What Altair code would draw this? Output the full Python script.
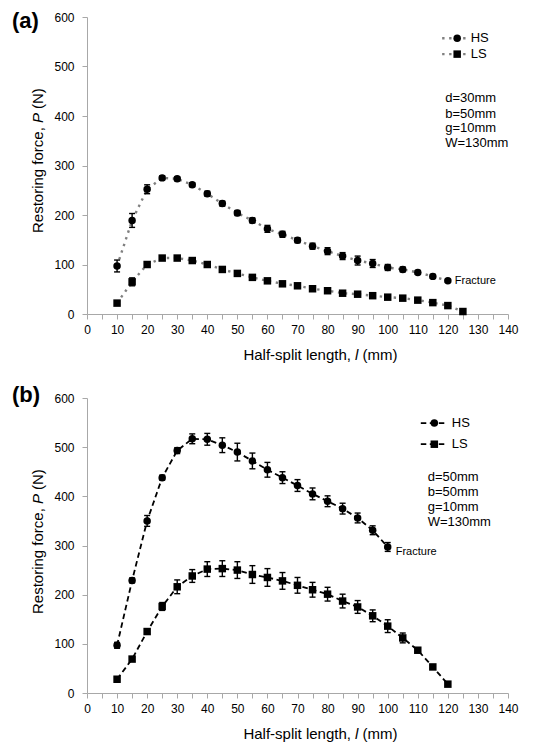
import altair as alt
import pandas as pd

# ---------------- data ----------------
# (a) d = 30 mm
a_hs_l = [10, 15, 20, 25, 30, 35, 40, 45, 50, 55, 60, 65, 70, 75, 80, 85, 90, 95, 100, 105, 110, 115, 120]
a_hs_p = [97, 189, 252, 275, 273, 261, 243, 223, 204, 189, 172, 161, 149, 137, 127, 117, 108, 102, 94, 90, 84, 76, 67]
a_hs_e = [12, 14, 9, 4, 4, 4, 5, 5, 5, 5, 7, 6, 5, 6, 7, 7, 9, 8, 6, 5, 4, 4, 3]
a_ls_l = [10, 15, 20, 25, 30, 35, 40, 45, 50, 55, 60, 65, 70, 75, 80, 85, 90, 95, 100, 105, 110, 115, 120, 125]
a_ls_p = [22, 65, 100, 113, 113, 108, 100, 90, 82, 74, 67, 61, 57, 51, 47, 42, 40, 37, 34, 32, 28, 23, 17, 5]
a_ls_e = [3, 8, 3, 3, 3, 3, 3, 3, 3, 3, 3, 3, 3, 3, 3, 3, 3, 3, 3, 3, 3, 3, 3, 2]
a_notes = ["d=30mm", "b=50mm", "g=10mm", "W=130mm"]

# (b) d = 50 mm
b_hs_l = [10, 15, 20, 25, 30, 35, 40, 45, 50, 55, 60, 65, 70, 75, 80, 85, 90, 95, 100]
b_hs_p = [97, 229, 350, 438, 493, 517, 516, 504, 490, 472, 454, 438, 422, 405, 390, 375, 356, 331, 297]
b_hs_e = [6, 5, 11, 5, 6, 10, 12, 15, 18, 16, 15, 12, 12, 12, 11, 11, 10, 9, 9]
b_ls_l = [10, 15, 20, 25, 30, 35, 40, 45, 50, 55, 60, 65, 70, 75, 80, 85, 90, 95, 100, 105, 110, 115, 120]
b_ls_p = [28, 69, 125, 176, 216, 238, 252, 253, 250, 241, 235, 228, 219, 210, 201, 187, 175, 157, 136, 112, 87, 53, 18]
b_ls_e = [2, 4, 5, 8, 14, 13, 15, 16, 17, 18, 18, 17, 16, 15, 14, 14, 13, 12, 13, 10, 4, 3, 2]
b_notes = ["d=50mm", "b=50mm", "g=10mm", "W=130mm"]

series_names = ["HS", "LS"]
tick_l = list(range(0, 145, 5))
tick_p = list(range(0, 650, 50))

# ---------------- styling ----------------
FONT = "Liberation Sans, Arial, Helvetica, sans-serif"
AXIS_GREY = "#a8a8a8"
MARKER = 56


def frame(l, p, e, name):
    return pd.DataFrame({
        "l": l, "P": p,
        "lo": [v - d for v, d in zip(p, e)],
        "hi": [v + d for v, d in zip(p, e)],
        "series": name,
    })


def one_text(text, x, y, **kw):
    return alt.Chart(pd.DataFrame({"t": [text]})).mark_text(font=FONT, color="black", **kw).encode(
        x=alt.value(x), y=alt.value(y), text="t:N")


def panel(hs, ls, notes, tag, line_style, w, h, leg, note_pos, frac_off, tag_x, tag_y):
    data = pd.concat([hs, ls], ignore_index=True)
    xs = alt.Scale(domain=[0, 140], nice=False, zero=False)
    ys = alt.Scale(domain=[0, 600], nice=False)
    x_enc = alt.X("l:Q", scale=xs, axis=alt.Axis(
        values=tick_l, labelExpr="datum.value % 10 === 0 ? datum.label : ''",
        title=None, grid=False, domainColor=AXIS_GREY, tickColor=AXIS_GREY, tickSize=5,
        labelFont=FONT, labelFontSize=12, labelColor="black", labelPadding=5,
        labelOverlap=False, labelFlush=False))
    y_enc = alt.Y("P:Q", scale=ys, axis=alt.Axis(
        values=tick_p, labelExpr="datum.value % 100 === 0 ? datum.label : ''",
        title=None, grid=False, domainColor=AXIS_GREY, tickColor=AXIS_GREY, tickSize=5,
        labelFont=FONT, labelFontSize=12, labelColor="black", labelPadding=8,
        labelOverlap=False))
    shape = alt.Shape("series:N", scale=alt.Scale(domain=series_names, range=["circle", "square"]), legend=None)

    base = alt.Chart(data)
    lines = base.mark_line(**line_style).encode(x=x_enc, y=y_enc, detail="series:N", order="l:Q")
    bars = base.mark_rule(color="black", strokeWidth=1.4).encode(x=x_enc, y="lo:Q", y2="hi:Q")
    cap_lo = base.mark_tick(orient="horizontal", color="black", size=6, thickness=1.4, opacity=1).encode(
        x=x_enc, y=alt.Y("lo:Q", scale=ys))
    cap_hi = base.mark_tick(orient="horizontal", color="black", size=6, thickness=1.4, opacity=1).encode(
        x=x_enc, y=alt.Y("hi:Q", scale=ys))
    pts = base.mark_point(filled=True, color="black", opacity=1, size=MARKER).encode(
        x=x_enc, y=y_enc, shape=shape)

    # legend drawn in data units
    lx0, lxm, lx1, ltx, ly = leg
    leg_lines = pd.DataFrame({
        "l": [lx0, lx1, lx0, lx1], "P": [ly[0], ly[0], ly[1], ly[1]],
        "series": ["HS", "HS", "LS", "LS"]})
    leg_pts = pd.DataFrame({"l": [lxm, lxm], "P": ly, "series": series_names})
    leg_txt = pd.DataFrame({"l": [ltx, ltx], "P": ly, "t": series_names})
    l_line = alt.Chart(leg_lines).mark_line(**line_style).encode(x=x_enc, y=y_enc, detail="series:N")
    l_pts = alt.Chart(leg_pts).mark_point(filled=True, color="black", opacity=1, size=MARKER).encode(
        x=x_enc, y=y_enc, shape=shape)
    l_txt = alt.Chart(leg_txt).mark_text(font=FONT, fontSize=13, align="left", baseline="middle",
                                         color="black").encode(x=x_enc, y=y_enc, text="t:N")

    nx, ny = note_pos
    note_df = pd.DataFrame({"l": [nx] * len(notes), "P": ny, "t": notes})
    note_txt = alt.Chart(note_df).mark_text(font=FONT, fontSize=13, align="left", baseline="middle",
                                            color="black").encode(x=x_enc, y=y_enc, text="t:N")

    # "Fracture" placed next to the last HS point
    frac_df = pd.DataFrame({"l": [hs["l"].iloc[-1]], "P": [hs["P"].iloc[-1]], "t": ["Fracture"]})
    frac = alt.Chart(frac_df).mark_text(font=FONT, fontSize=11, align="left", baseline="middle",
                                        color="black", dx=frac_off[0], dy=frac_off[1]).encode(
        x=x_enc, y=y_enc, text="t:N")

    # axis titles with italic symbols
    xt_y = h + 41
    lx = 268
    titles = [
        one_text("Half-split length,", lx - 4, xt_y, fontSize=15, align="right", baseline="middle"),
        one_text("l", lx, xt_y, fontSize=15, fontStyle="italic", align="left", baseline="middle"),
        one_text("(mm)", lx + 7.5, xt_y, fontSize=15, align="left", baseline="middle"),
        one_text("Restoring force,", -49, 216, fontSize=15, angle=270, align="left", baseline="middle"),
        one_text("P", -49, 106, fontSize=15, fontStyle="italic", angle=270, align="left", baseline="middle"),
        one_text("(N)", -49, 92, fontSize=15, angle=270, align="left", baseline="middle"),
        one_text(tag, tag_x, tag_y, fontSize=22, fontWeight="bold", align="left", baseline="middle"),
    ]

    return alt.layer(lines, bars, cap_lo, cap_hi, pts, l_line, l_pts, l_txt, note_txt, frac, *titles).properties(
        width=w, height=h)


dotted = dict(color="#808080", strokeWidth=2.4, strokeDash=[2.4, 4.6], strokeCap="butt")
dashed = dict(color="black", strokeWidth=1.8, strokeDash=[5.5, 3.5], strokeCap="butt")

chart_a = panel(frame(a_hs_l, a_hs_p, a_hs_e, "HS"), frame(a_ls_l, a_ls_p, a_ls_e, "LS"), a_notes, "(a)",
                dotted, 421, 297,
                (118.1, 123.1, 126.7, 127.6, [557, 525]),
                (119.1, [436, 405, 375, 345]), (7, 0), -75, 4)
chart_b = panel(frame(b_hs_l, b_hs_p, b_hs_e, "HS"), frame(b_ls_l, b_ls_p, b_ls_e, "LS"), b_notes, "(b)",
                dashed, 421, 295,
                (111.0, 115.5, 119.5, 121.3, [549, 506]),
                (113.3, [439, 409, 378, 347]), (8, 5), -75, -3)

chart = alt.vconcat(chart_a, chart_b, spacing=21).properties(
    padding={"left": 12, "top": 10, "right": 10, "bottom": 10},
    background="white",
).configure_view(stroke=None)

chart.save("out.html", embed_options={"renderer": "svg", "actions": False})
